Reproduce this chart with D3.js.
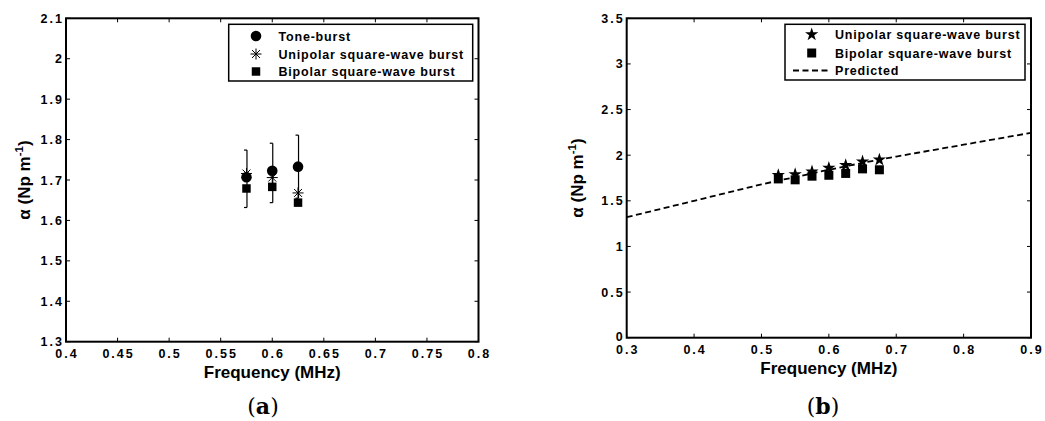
<!DOCTYPE html>
<html>
<head>
<meta charset="utf-8">
<script src="https://cdn.jsdelivr.net/npm/d3@7"></script>
<style>
body { margin: 0; background: #fff; }
svg text { font-family: "Liberation Sans", Arial, sans-serif; font-weight: bold; fill: #000; }
</style>
</head>
<body>
<svg id="fig" width="1045" height="421"></svg>
<script>
// panel (a) data
var freqA = [0.575, 0.6, 0.625];
var toneBurst = [1.707, 1.723, 1.733];
var toneLow = [1.632, 1.644, 1.655];
var toneHigh = [1.774, 1.791, 1.811];
var unipolarA = [1.716, 1.706, 1.668];
var bipolarA = [1.679, 1.683, 1.644];
var xTicksA = [0.4, 0.45, 0.5, 0.55, 0.6, 0.65, 0.7, 0.75, 0.8];
var xLabelsA = ["0.4", "0.45", "0.5", "0.55", "0.6", "0.65", "0.7", "0.75", "0.8"];
var yTicksA = [1.3, 1.4, 1.5, 1.6, 1.7, 1.8, 1.9, 2.0, 2.1];
var yLabelsA = ["1.3", "1.4", "1.5", "1.6", "1.7", "1.8", "1.9", "2", "2.1"];
var legendA = ["Tone-burst", "Unipolar square-wave burst", "Bipolar square-wave burst"];

// panel (b) data
var freqB = [0.525, 0.55, 0.575, 0.6, 0.625, 0.65, 0.675];
var unipolarB = [1.78, 1.79, 1.82, 1.86, 1.89, 1.93, 1.95];
var bipolarB = [1.74, 1.73, 1.77, 1.78, 1.80, 1.85, 1.84];
var predFreq = [0.3, 0.35, 0.4, 0.45, 0.5, 0.55, 0.6, 0.65, 0.7, 0.75, 0.8, 0.85, 0.9];
var predicted = [1.32, 1.41, 1.50, 1.59, 1.68, 1.76, 1.84, 1.915, 1.985, 2.05, 2.115, 2.18, 2.245];
var xTicksB = [0.3, 0.4, 0.5, 0.6, 0.7, 0.8, 0.9];
var xLabelsB = ["0.3", "0.4", "0.5", "0.6", "0.7", "0.8", "0.9"];
var yTicksB = [0, 0.5, 1, 1.5, 2, 2.5, 3, 3.5];
var yLabelsB = ["0", "0.5", "1", "1.5", "2", "2.5", "3", "3.5"];
var legendB = ["Unipolar square-wave burst", "Bipolar square-wave burst", "Predicted"];

var svg = d3.select("#fig");

// asterisk marker like matlab '*'
function asterisk(r) {
    var d = r * 0.72;
    return "M" + (-r) + ",0L" + r + ",0M0," + (-r) + "L0," + r +
        "M" + (-d) + "," + (-d) + "L" + d + "," + d + "M" + (-d) + "," + d + "L" + d + "," + (-d);
}

function drawFrame(g, x, y, xt, xl, yt, yl) {
    var x0 = x.range()[0], x1 = x.range()[1], y0 = y.range()[0], y1 = y.range()[1];
    var tl = 4;
    // ticks inside on all four sides
    xt.forEach(function(v) {
        g.append("line").attr("x1", x(v)).attr("x2", x(v)).attr("y1", y0).attr("y2", y0 - tl).attr("stroke", "#000");
        g.append("line").attr("x1", x(v)).attr("x2", x(v)).attr("y1", y1).attr("y2", y1 + tl).attr("stroke", "#000");
    });
    yt.forEach(function(v) {
        g.append("line").attr("x1", x0).attr("x2", x0 + tl).attr("y1", y(v)).attr("y2", y(v)).attr("stroke", "#000");
        g.append("line").attr("x1", x1).attr("x2", x1 - tl).attr("y1", y(v)).attr("y2", y(v)).attr("stroke", "#000");
    });
    g.append("rect").attr("x", x0).attr("y", y1).attr("width", x1 - x0).attr("height", y0 - y1)
        .attr("fill", "none").attr("stroke", "#000").attr("stroke-width", 2);
    g.selectAll(".xl").data(xt).enter().append("text")
        .attr("x", function(d) { return x(d) + 1; })
        .attr("y", y0 + 16.5)
        .attr("text-anchor", "middle")
        .style("font-size", "12.5px").style("letter-spacing", "2px")
        .text(function(d, i) { return xl[i]; });
    g.selectAll(".yl").data(yt).enter().append("text")
        .attr("x", x0 - 2)
        .attr("y", function(d, i) { return y(d) + (i == 0 && y.domain()[0] == 0 ? 3 : 4.5); })
        .attr("text-anchor", "end")
        .style("font-size", "12.5px").style("letter-spacing", "2px")
        .text(function(d, i) { return yl[i]; });
}

function axisTitles(g, x, y, ylx, cap, capx) {
    var cx = (x.range()[0] + x.range()[1]) / 2;
    var cy = (y.range()[0] + y.range()[1]) / 2;
    g.append("text").attr("x", cx).attr("y", y.range()[0] + 36)
        .attr("text-anchor", "middle").style("font-size", "17px")
        .text("Frequency (MHz)");
    var t = g.append("text").attr("transform", "translate(" + ylx + "," + cy + ") rotate(-90)")
        .attr("text-anchor", "middle").style("font-size", "17px");
    t.append("tspan").text("\u03b1 (Np m");
    t.append("tspan").attr("dy", -7).style("font-size", "11.5px").text("-1");
    t.append("tspan").attr("dy", 7).text(")");
    var c = g.append("text").attr("x", capx).attr("y", 414).attr("text-anchor", "middle")
        .style("font-family", "'DejaVu Serif', serif").style("font-weight", "normal").style("font-size", "22px");
    c.append("tspan").text("(");
    c.append("tspan").style("font-weight", "bold").text(cap);
    c.append("tspan").text(")");
}

// ---------- panel (a) ----------
var xA = d3.scaleLinear().domain([0.4, 0.8]).range([66, 478.5]);
var yA = d3.scaleLinear().domain([1.3, 2.1]).range([341.7, 18.3]);
var gA = svg.append("g");
drawFrame(gA, xA, yA, xTicksA, xLabelsA, yTicksA, yLabelsA);
axisTitles(gA, xA, yA, 30, "a", 263);

// error bars (caps only on left, as rendered)
freqA.forEach(function(f, i) {
    var xx = xA(f) + 0.5;
    gA.append("line").attr("x1", xx).attr("x2", xx).attr("y1", yA(toneLow[i])).attr("y2", yA(toneHigh[i]))
        .attr("stroke", "#000").attr("stroke-width", 1.2);
    gA.append("line").attr("x1", xx - 3).attr("x2", xx).attr("y1", yA(toneLow[i])).attr("y2", yA(toneLow[i]))
        .attr("stroke", "#000").attr("stroke-width", 1.2);
    gA.append("line").attr("x1", xx - 3).attr("x2", xx).attr("y1", yA(toneHigh[i])).attr("y2", yA(toneHigh[i]))
        .attr("stroke", "#000").attr("stroke-width", 1.2);
});
gA.selectAll(".tb").data(freqA).enter().append("circle")
    .attr("cx", function(d) { return xA(d); })
    .attr("cy", function(d, i) { return yA(toneBurst[i]); })
    .attr("r", 5.3).attr("fill", "#000");
gA.selectAll(".ua").data(freqA).enter().append("path")
    .attr("transform", function(d, i) { return "translate(" + xA(d) + "," + yA(unipolarA[i]) + ")"; })
    .attr("d", asterisk(5.5)).attr("stroke", "#000").attr("stroke-width", 1).attr("fill", "none");
gA.selectAll(".ba").data(freqA).enter().append("path")
    .attr("transform", function(d, i) { return "translate(" + xA(d) + "," + yA(bipolarA[i]) + ")"; })
    .attr("d", d3.symbol().type(d3.symbolSquare).size(72)).attr("fill", "#000");

// legend (a)
gA.append("rect").attr("x", 228.7).attr("y", 24.3).attr("width", 244).attr("height", 56.7)
    .attr("fill", "#fff").attr("stroke", "#000").attr("stroke-width", 1.5);
var rowsA = [36, 54, 71.5];
gA.append("circle").attr("cx", 256).attr("cy", rowsA[0]).attr("r", 5.3).attr("fill", "#000");
gA.append("path").attr("transform", "translate(256," + rowsA[1] + ")").attr("d", asterisk(5.5))
    .attr("stroke", "#000").attr("stroke-width", 1).attr("fill", "none");
gA.append("path").attr("transform", "translate(256," + rowsA[2] + ")")
    .attr("d", d3.symbol().type(d3.symbolSquare).size(72)).attr("fill", "#000");
gA.selectAll(".lg").data(legendA).enter().append("text")
    .attr("x", 278.5).attr("y", function(d, i) { return rowsA[i] + 4.5; })
    .style("font-size", "12.5px").style("letter-spacing", "0.8px")
    .text(function(d) { return d; });

// ---------- panel (b) ----------
var xB = d3.scaleLinear().domain([0.3, 0.9]).range([626.7, 1031]);
var yB = d3.scaleLinear().domain([0, 3.5]).range([337.7, 18.3]);
var gB = svg.append("g");
drawFrame(gB, xB, yB, xTicksB, xLabelsB, yTicksB, yLabelsB);
axisTitles(gB, xB, yB, 583, "b", 823);

var predLine = d3.line()
    .x(function(d) { return xB(d); })
    .y(function(d, i) { return yB(predicted[i]); })
    .curve(d3.curveMonotoneX);
gB.append("path").datum(predFreq).attr("d", predLine)
    .attr("fill", "none").attr("stroke", "#000").attr("stroke-width", 1.8).attr("stroke-dasharray", "6,3.5");
gB.selectAll(".ub").data(freqB).enter().append("path")
    .attr("transform", function(d, i) { return "translate(" + xB(d) + "," + yB(unipolarB[i]) + ")"; })
    .attr("d", d3.symbol().type(d3.symbolStar).size(55)).attr("fill", "#000");
gB.selectAll(".bb").data(freqB).enter().append("path")
    .attr("transform", function(d, i) { return "translate(" + xB(d) + "," + yB(bipolarB[i]) + ")"; })
    .attr("d", d3.symbol().type(d3.symbolSquare).size(81)).attr("fill", "#000");

// legend (b)
gB.append("rect").attr("x", 785).attr("y", 24.3).attr("width", 240).attr("height", 55.7)
    .attr("fill", "#fff").attr("stroke", "#000").attr("stroke-width", 1.5);
var rowsB = [34.5, 53, 70.5];
gB.append("path").attr("transform", "translate(811.7," + rowsB[0] + ")")
    .attr("d", d3.symbol().type(d3.symbolStar).size(55)).attr("fill", "#000");
gB.append("path").attr("transform", "translate(811.7," + rowsB[1] + ")")
    .attr("d", d3.symbol().type(d3.symbolSquare).size(81)).attr("fill", "#000");
gB.append("line").attr("x1", 793).attr("x2", 830).attr("y1", rowsB[2]).attr("y2", rowsB[2])
    .attr("stroke", "#000").attr("stroke-width", 1.8).attr("stroke-dasharray", "6,3.5");
gB.selectAll(".lg").data(legendB).enter().append("text")
    .attr("x", 835).attr("y", function(d, i) { return rowsB[i] + 4.5; })
    .style("font-size", "12.5px").style("letter-spacing", "0.8px")
    .text(function(d) { return d; });
</script>
</body>
</html>
